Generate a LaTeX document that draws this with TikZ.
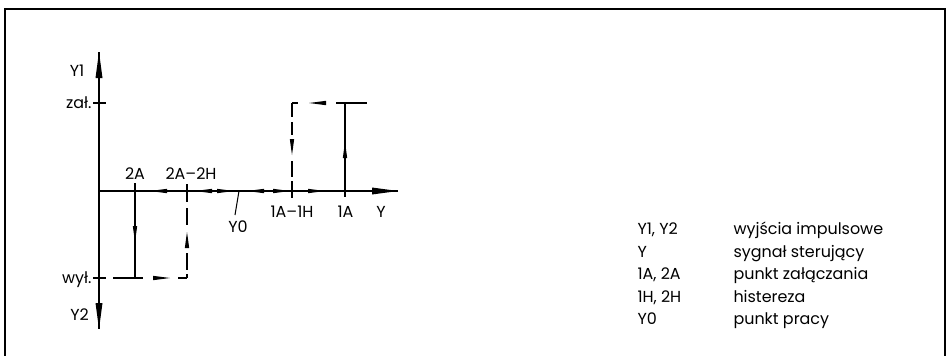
\documentclass[tikz,border=0pt]{standalone}
\usepackage{fontspec}
\setmainfont{Poppins}
\newcommand\tipL[2]{\fill (#1,#2) -- ++(17,-2.2) -- ++(0,4.4) -- cycle;}
\newcommand\tipR[2]{\fill (#1,#2) -- ++(-17,-2.2) -- ++(0,4.4) -- cycle;}
\newcommand\tipU[2]{\fill (#1,#2) -- ++(-2.2,16) -- ++(4.4,0) -- cycle;}
\newcommand\tipD[2]{\fill (#1,#2) -- ++(-2.2,-16) -- ++(4.4,0) -- cycle;}
\begin{document}
\begin{tikzpicture}[x=1bp,y=-1bp,line width=1.05bp,
  lbl/.style={font=\fontsize{16}{19}\selectfont,inner sep=0pt},
  frame/.style={line width=2.4bp}]
\useasboundingbox (0,0) rectangle (949,355);
\begin{scope}
\clip (0,0) rectangle (949,355);
\draw[frame] (5,9) rectangle (945,365);
\end{scope}
% axes
\coordinate (o) at (99,191);
\coordinate (ytop) at (99,52);
\coordinate (ybot) at (99,329);
\coordinate (xend) at (398,191);
\draw (ytop) -- (ybot);
\draw (o) -- (xend);
\fill (ytop) -- (95.5,78) -- (102.5,78) -- cycle;
\fill (ybot) -- (95.5,303) -- (102.5,303) -- cycle;
\fill (xend) -- (372,187.5) -- (372,194.5) -- cycle;
% ticks on Y axis
\draw (93,103) -- (106,103);
\draw (93,278) -- (106,278);
% 2A
\draw (135,183) -- (135,278);
\tipD{135}{242}
% wył. line
\draw (113,278) -- (143,278);
\tipR{170}{278}
\draw (178,278) -- (187,278);
% 2A-2H dashed vertical
\draw (187,184) -- (187,202);
\draw (187,208) -- (187,225);
\tipU{187}{232}
\draw (187,253) -- (187,270);
\draw (187,274) -- (187,278);
% 1A
\draw (345,103) -- (345,197);
\tipU{345}{142}
% top line
\draw (292,103) -- (298,103);
\tipL{309}{103}
\draw (336,103) -- (367,103);
% 1A-1H dashed vertical
\draw (292,103) -- (292,117);
\draw (292,122) -- (292,135);
\tipD{292}{155}
\draw (292,161) -- (292,177);
\draw (292,181) -- (292,198);
% arrows on axis
\tipL{150}{191}
\tipL{195}{191}
\tipR{234}{191}
\tipL{247}{191}
\tipR{290}{191}
\tipR{325}{191}
% Y0 marker
\draw (239,191) -- (235,215);
% labels
\node[lbl,anchor=base] (lY1) at (77,76.5) {Y1};
\node[lbl,anchor=base east] (lzal) at (92,108) {zał.};
\node[lbl,anchor=base east] (lwyl) at (92,283) {wył.};
\node[lbl,anchor=base] (lY2) at (79.5,320) {Y2};
\node[lbl,anchor=base] (l2A) at (135,179) {2A};
\node[lbl,anchor=base] (l2A2H) at (191,179) {2A–2H};
\node[lbl,anchor=base] (lY0) at (238,232) {Y0};
\node[lbl,anchor=base] (l1A1H) at (292,217) {1A–1H};
\node[lbl,anchor=base] (l1A) at (345.5,217) {1A};
\node[lbl,anchor=base] (lY) at (381,217) {Y};
% legend
\foreach \k/\a/\b/\yy in {1/{Y1, Y2}/{wyjścia impulsowe}/234.5, 2/Y/{sygnał sterujący}/257, 3/{1A, 2A}/{punkt załączania}/279.5, 4/{1H, 2H}/histereza/302, 5/Y0/{punkt pracy}/324.5}{
  \node[lbl,anchor=base west] (ka\k) at (637,\yy) {\a};
  \node[lbl,anchor=base west] (kb\k) at (733,\yy) {\b};
}
\end{tikzpicture}
\end{document}
